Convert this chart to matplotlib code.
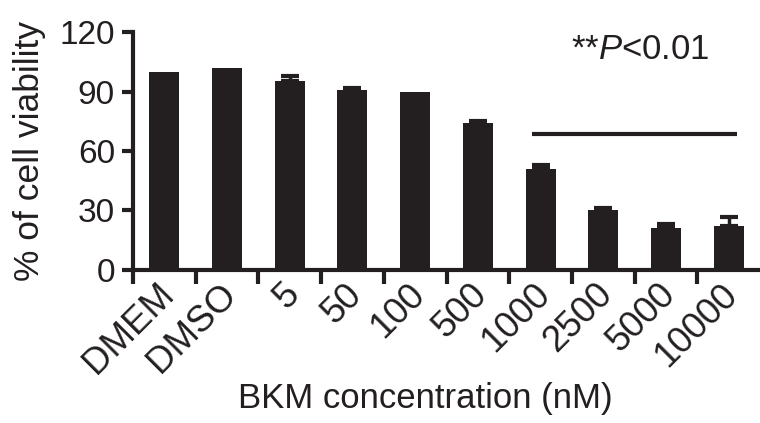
import matplotlib
matplotlib.use("Agg")
import matplotlib.pyplot as plt
import matplotlib.transforms as mtransforms
import numpy as np

plt.rcParams['font.family'] = ['Liberation Sans', 'DejaVu Sans']
plt.rcParams['mathtext.fontset'] = 'custom'
plt.rcParams['mathtext.rm'] = 'Liberation Sans'
plt.rcParams['mathtext.it'] = 'Liberation Sans:italic'

# data
groups = ['DMEM', 'DMSO', '5', '50', '100', '500', '1000', '2500', '5000', '10000']
viability = [100, 102, 95.3, 90.8, 89.6, 74, 50.8, 30.3, 21, 21.9]
sem = [0, 0, 2.5, 1.2, 0, 1.1, 2.2, 0.8, 2.2, 4.7]
sig_start, sig_end, sig_y = 5.87, 9.14, 68.6
yticks = [0, 30, 60, 90, 120]

ink = '#231f20'
x = np.arange(len(groups))
v = np.array(viability)
e = np.array(sem)
has_err = e > 0

fig = plt.figure(figsize=(7.6, 4.23), dpi=100)
ax = fig.add_axes([0.175, 0.362, 0.825, 0.562])

ax.bar(x, v, width=0.48, color=ink, zorder=2)
ax.errorbar(x[has_err], v[has_err], yerr=[np.zeros(has_err.sum()), e[has_err]],
            fmt='none', ecolor=ink, elinewidth=2.5, capsize=6.8, capthick=3, zorder=1)

# significance bar
ax.plot([sig_start, sig_end], [sig_y, sig_y], color=ink, lw=3, solid_capstyle='butt')
ax.text(6.49, 111, '**$P$<0.01', fontsize=25, color=ink, ha='left', va='center')

ax.set_xlim(-0.5, 9.5)
ax.set_ylim(0, 120)
ax.set_yticks(yticks)
ax.set_yticklabels([str(t) for t in yticks])

# ticks between bars, labels under bars
ax.set_xticks(x)
ax.set_xticklabels(groups, rotation=45, ha='right', va='top', rotation_mode='anchor')
ax.set_xticks(x - 0.5, minor=True)
ax.tick_params(axis='x', which='major', length=0, pad=5, labelsize=26.5, labelcolor=ink)
ax.tick_params(axis='x', which='minor', length=10, width=3, color=ink, direction='out')
ax.tick_params(axis='y', length=8, width=3, color=ink, pad=5, labelsize=24, labelcolor=ink)
shift = mtransforms.ScaledTranslation(-6 / 72, 0, fig.dpi_scale_trans)
for lab in ax.get_xticklabels():
    lab.set_transform(lab.get_transform() + shift)

for s in ['top', 'right']:
    ax.spines[s].set_visible(False)
for s in ['left', 'bottom']:
    ax.spines[s].set_linewidth(3)
    ax.spines[s].set_color(ink)

ax.set_ylabel('% of cell viability', fontsize=25.5, color=ink)
ax.yaxis.set_label_coords(-0.138, 0.5)
ax.set_xlabel('BKM concentration (nM)', fontsize=25, color=ink)
ax.xaxis.set_label_coords(0.466, -0.47)

plt.savefig('out.png', dpi=100)
